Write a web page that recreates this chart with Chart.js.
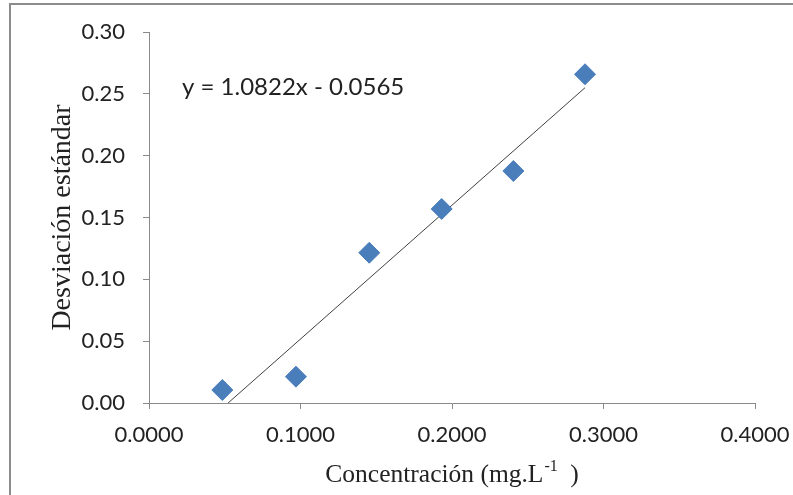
<!DOCTYPE html>
<html>
<head>
<meta charset="utf-8">
<script src="https://cdn.jsdelivr.net/npm/chart.js@4.4.1/dist/chart.umd.min.js"></script>
<style>
  html, body { margin: 0; padding: 0; background: #fff; }
  #wrap { width: 793px; height: 495px; position: relative; }
</style>
</head>
<body>
<div id="wrap"><canvas id="chart" width="793" height="495"></canvas></div>
<script>
// measured points
const concentracion = [0.0484, 0.0970, 0.1454, 0.1932, 0.2405, 0.2878];
const desviacion = [0.0105, 0.0213, 0.1215, 0.1569, 0.1876, 0.2658];

// linear trendline as printed on the chart
const slope = 1.0822;
const intercept = -0.0565;

const xTitle = ['Concentración (mg.L', '-1', ' )'];
const yTitle = 'Desviación estándar';

const trendStart = -intercept / slope;
const trendEnd = Math.max(...concentracion);
const trendline = [
  { x: trendStart, y: slope * trendStart + intercept },
  { x: trendEnd, y: slope * trendEnd + intercept }
];

const points = concentracion.map((x, i) => ({ x: x, y: desviacion[i] }));

const axisGray = '#898989';
const tickFont = { family: 'Lato', size: 22 };

// outer frame of the chart object
const framePlugin = {
  id: 'frame',
  beforeDraw(chart) {
    const ctx = chart.ctx;
    ctx.save();
    ctx.strokeStyle = '#8c8c8c';
    ctx.lineWidth = 2;
    ctx.strokeRect(10, 4, 900, 600);
    ctx.restore();
  }
};

// equation label and x title with superscript
const labelsPlugin = {
  id: 'labels',
  afterDraw(chart) {
    const ctx = chart.ctx;
    const area = chart.chartArea;
    ctx.save();
    ctx.fillStyle = '#222';
    ctx.font = '24px Lato';
    ctx.textBaseline = 'middle';
    ctx.textAlign = 'left';
    ctx.fillText('y = ' + slope.toFixed(4) + 'x - ' + Math.abs(intercept).toFixed(4), 182, 87);

    const main = '25.5px "Liberation Serif"';
    const sup = '16px "Liberation Serif"';
    ctx.font = main;
    const w0 = ctx.measureText(xTitle[0]).width;
    const w2 = ctx.measureText(xTitle[2]).width;
    ctx.font = sup;
    const w1 = ctx.measureText(xTitle[1]).width;
    const total = w0 + w1 + w2 + 7;
    let x = (area.left + area.right) / 2 - total / 2;
    const base = 482;
    ctx.textBaseline = 'alphabetic';
    ctx.font = main;
    ctx.fillText(xTitle[0], x, base);
    x += w0 + 1;
    ctx.font = sup;
    ctx.fillText(xTitle[1], x, base - 11);
    x += w1 + 6;
    ctx.font = main;
    ctx.fillText(xTitle[2], x, base);
    ctx.restore();
  }
};

new Chart(document.getElementById('chart'), {
  type: 'scatter',
  data: {
    datasets: [
      {
        label: 'trend',
        type: 'line',
        data: trendline,
        borderColor: '#404040',
        borderWidth: 1,
        pointRadius: 0,
        fill: false,
        order: 2
      },
      {
        label: 'data',
        data: points,
        pointStyle: 'rectRot',
        pointRadius: 10.5,
        pointHoverRadius: 10.5,
        backgroundColor: '#4a7ebb',
        borderColor: '#4a7ebb',
        borderWidth: 1,
        order: 1
      }
    ]
  },
  options: {
    responsive: false,
    animation: false,
    devicePixelRatio: 1,
    layout: { padding: { left: 0, top: 32, right: 38, bottom: 0 } },
    plugins: {
      legend: { display: false },
      tooltip: { enabled: false }
    },
    scales: {
      x: {
        type: 'linear',
        min: 0,
        max: 0.4,
        afterFit(scale) {
          scale.height = 92;
          scale.paddingRight = 0;
        },
        ticks: {
          stepSize: 0.1,
          color: '#222',
          font: tickFont,
          padding: 13,
          maxRotation: 0,
          callback: v => v.toFixed(4)
        },
        grid: {
          drawOnChartArea: false,
          color: axisGray,
          tickLength: 6
        },
        border: { color: axisGray, width: 1 }
      },
      y: {
        type: 'linear',
        min: 0,
        max: 0.3,
        afterFit(scale) { scale.width = 149; },
        ticks: {
          stepSize: 0.05,
          color: '#222',
          font: tickFont,
          padding: 18,
          callback: v => v.toFixed(2)
        },
        grid: {
          drawOnChartArea: false,
          color: axisGray,
          tickLength: 6
        },
        border: { color: axisGray, width: 1 },
        title: {
          display: true,
          text: yTitle,
          color: '#222',
          font: { family: 'Liberation Serif', size: 28 },
          padding: { top: 46, bottom: 0 }
        }
      }
    }
  },
  plugins: [framePlugin, labelsPlugin]
});
</script>
</body>
</html>
